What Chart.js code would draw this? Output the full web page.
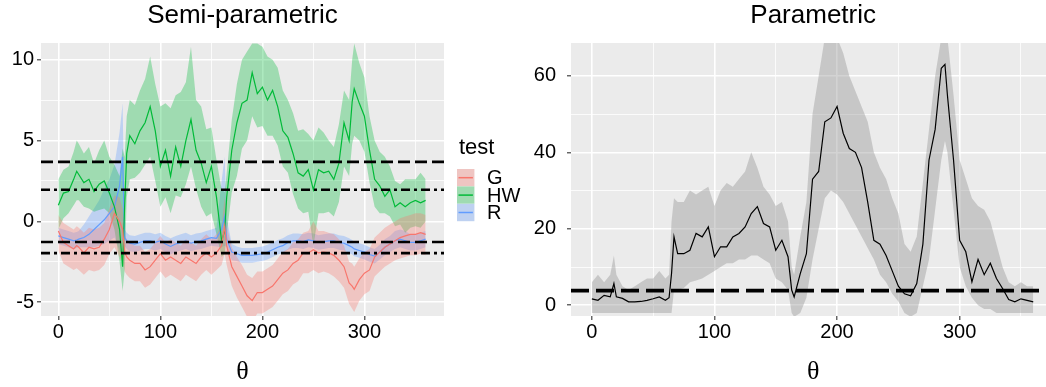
<!DOCTYPE html>
<html>
<head>
<meta charset="utf-8">
<title>Semi-parametric vs Parametric</title>
<script src="https://cdn.jsdelivr.net/npm/chart.js@4.4.1/dist/chart.umd.min.js"></script>
<style>
  html, body { margin: 0; padding: 0; background: #fff; overflow: hidden; }
  body { width: 1046px; height: 387px; position: relative; }
  .panel { position: absolute; top: 0; height: 387px; }
  #semiWrap { left: 0; width: 540px; }
  #paraWrap { left: 530px; width: 530px; }
</style>
</head>
<body>
<div class="panel" id="semiWrap"><canvas id="semi"></canvas></div>
<div class="panel" id="paraWrap"><canvas id="para"></canvas></div>
<script>
/* ---------- data ---------- */

const theta = [0, 5, 10, 15, 18, 20, 25, 30, 35, 40,
    45, 50, 55, 60, 63, 65, 67, 70, 75, 80,
    85, 90, 95, 100, 105, 110, 115, 120, 125, 130,
    135, 140, 145, 150, 155, 160, 163, 165, 170, 175,
    180, 185, 190, 195, 200, 205, 210, 215, 220, 225,
    230, 235, 240, 245, 250, 255, 260, 265, 270, 275,
    280, 285, 288, 290, 295, 300, 305, 310, 315, 320,
    325, 330, 335, 340, 345, 350, 355, 360];

// Semi-parametric: HW
const hwMean = [1.0, 1.75, 1.85, 2.6, 3.1, 2.9, 2.4, 2.6, 1.85, 2.3,
    2.5, 1.75, 0.9, -0.5, -2.8, 1.0, 4.2, 5.3, 4.8, 5.6,
    6.1, 7.1, 5.6, 3.4, 4.4, 2.8, 4.6, 3.4, 5.0, 6.3,
    4.4, 3.6, 2.4, 3.4, 1.5, -1.2, -0.6, 1.5, 4.4, 6.1,
    7.3, 7.5, 9.2, 7.9, 8.3, 7.5, 8.1, 7.1, 5.6, 5.2,
    4.2, 3.0, 2.8, 3.2, 1.95, 3.2, 3.0, 3.1, 2.6, 3.6,
    6.1, 5.0, 7.4, 8.2, 7.3, 6.5, 4.4, 2.6, 2.2, 1.55,
    1.95, 0.9, 1.15, 0.9, 1.15, 1.3, 1.15, 1.3];
const hwLo = [-0.5, 0.2, 0.5, 1.0, 1.3, 1.3, 0.9, 0.8, 0.6, 0.7,
    0.8, 0.5, -0.5, -2.5, -4.3, -3.0, 1.5, 2.6, 2.7, 3.0,
    3.5, 4.0, 2.5, 0.9, 1.5, 0.5, 1.6, 1.5, 2.3, 3.4,
    2.0, 0.9, 0.3, 0.5, -0.8, -2.2, -2.0, -0.8, 1.8, 2.8,
    4.5, 5.0, 6.5, 5.8, 5.9, 5.3, 5.3, 4.7, 3.4, 3.0,
    1.7, 0.8, 0.5, 0.6, -1.5, 0.5, 0.5, 0.6, 0.3, 1.2,
    3.4, 2.8, 4.8, 5.3, 5.0, 4.3, 2.4, 0.9, 0.5, 0.5,
    0.3, -0.3, -0.2, -0.7, -0.4, -0.3, -0.4, 0.0];
const hwHi = [2.6, 3.2, 3.4, 4.3, 5.0, 4.8, 4.2, 4.6, 3.6, 4.4,
    5.0, 4.0, 3.5, 2.8, 4.5, 4.0, 6.5, 7.5, 7.2, 8.1,
    8.8, 10.2, 8.5, 7.1, 7.3, 7.0, 7.8, 8.0, 8.6, 10.8,
    7.5, 7.1, 5.7, 5.8, 3.8, 2.0, 1.8, 3.0, 6.3, 8.5,
    10.0, 10.5, 11.0, 11.0, 10.8, 10.2, 10.0, 9.5, 8.1, 7.5,
    6.7, 5.6, 5.7, 5.4, 5.0, 5.8, 5.5, 5.0, 4.6, 6.0,
    8.1, 7.5, 10.0, 11.0, 9.8, 8.9, 6.5, 5.0, 4.3, 4.0,
    3.4, 2.5, 2.3, 2.6, 2.6, 2.6, 3.0, 2.6];

// Semi-parametric: G
const gMean = [-0.6, -1.3, -1.5, -1.7, -1.5, -1.6, -1.95, -1.6, -1.7, -1.6,
    -1.1, -0.5, 0.5, 0.0, -0.5, -1.9, -2.2, -2.4, -2.6, -2.6,
    -3.0, -2.8, -2.4, -2.0, -2.4, -2.2, -2.4, -2.6, -2.2, -2.4,
    -2.6, -2.2, -1.95, -2.2, -1.95, -1.5, -0.3, -1.5, -2.8, -3.4,
    -4.0, -4.6, -4.9, -4.4, -4.4, -4.2, -4.0, -3.6, -3.2, -3.0,
    -2.6, -2.4, -1.95, -1.95, -1.75, -1.95, -1.9, -1.95, -2.1, -2.4,
    -2.8, -3.8, -4.0, -4.2, -3.6, -3.2, -3.0, -2.2, -1.9, -1.6,
    -1.4, -1.2, -1.0, -0.9, -0.8, -0.8, -0.7, -0.8];
const gLo = [-1.8, -2.6, -2.8, -3.0, -2.9, -3.0, -3.3, -3.0, -3.1, -3.0,
    -2.7, -2.0, -1.6, -2.2, -2.5, -3.1, -3.3, -3.5, -3.7, -3.7,
    -4.1, -3.9, -3.5, -3.1, -3.5, -3.3, -3.5, -3.7, -3.3, -3.5,
    -3.7, -3.3, -3.0, -3.3, -3.0, -2.7, -2.0, -2.7, -4.0, -4.7,
    -5.3, -5.9, -6.2, -5.7, -5.7, -5.5, -5.3, -4.9, -4.5, -4.3,
    -3.9, -3.7, -3.2, -3.2, -3.0, -3.2, -3.1, -3.2, -3.4, -3.7,
    -4.1, -5.1, -5.4, -5.6, -4.9, -4.5, -4.3, -3.4, -3.1, -2.8,
    -2.6, -2.4, -2.3, -2.2, -2.1, -2.1, -2.0, -2.1];
const gHi = [0.4, -0.1, -0.3, -0.5, -0.3, -0.4, -0.7, -0.4, -0.5, -0.4,
    -0.1, 0.8, 1.6, 1.5, 0.8, -0.8, -1.1, -1.3, -1.5, -1.5,
    -1.9, -1.7, -1.3, -0.9, -1.3, -1.1, -1.3, -1.5, -1.1, -1.3,
    -1.5, -1.1, -0.8, -1.1, -0.8, -0.3, 1.5, -0.3, -1.6, -2.2,
    -2.7, -3.3, -3.5, -3.1, -3.1, -2.9, -2.7, -2.3, -1.9, -1.7,
    -1.3, -1.1, -0.7, -0.6, 0.0, -0.6, -0.6, -0.7, -0.8, -1.1,
    -1.5, -2.5, -2.6, -2.8, -2.3, -1.9, -1.7, -1.0, -0.7, -0.4,
    -0.2, 0.0, 0.2, 0.3, 0.4, 0.5, 0.5, 0.4];

// Semi-parametric: R
const rMean = [-0.9, -1.0, -1.1, -1.2, -1.15, -1.1, -1.0, -0.8, -0.5, -0.2,
    0.1, 0.5, 0.9, 2.2, 4.0, -1.0, -1.2, -1.35, -1.4, -1.3,
    -1.2, -1.2, -1.3, -1.2, -1.4, -1.55, -1.4, -1.3, -1.2, -1.35,
    -1.25, -1.2, -1.1, -1.0, -1.05, -0.5, 0.3, -1.1, -1.9, -2.0,
    -2.1, -2.1, -2.1, -2.05, -2.0, -1.9, -1.75, -1.6, -1.5, -1.3,
    -1.2, -1.2, -1.25, -1.15, -1.2, -1.3, -1.25, -1.2, -1.2, -1.3,
    -1.35, -1.5, -1.6, -1.7, -1.8, -1.9, -2.05, -2.15, -1.9, -1.6,
    -1.4, -1.2, -1.1, -1.2, -1.3, -1.3, -1.2, -1.1];
const rLo = [-1.4, -1.5, -1.6, -1.7, -1.65, -1.6, -1.6, -1.6, -1.6, -1.5,
    -1.4, -1.2, -1.0, -1.8, -2.0, -1.5, -1.7, -1.85, -1.9, -1.8,
    -1.7, -1.7, -1.8, -1.7, -1.9, -2.05, -1.9, -1.8, -1.7, -1.85,
    -1.75, -1.7, -1.6, -1.5, -1.55, -1.6, -1.5, -1.6, -2.4, -2.45,
    -2.55, -2.55, -2.55, -2.5, -2.45, -2.35, -2.2, -2.05, -1.95, -1.75,
    -1.65, -1.65, -1.7, -1.6, -1.65, -1.75, -1.7, -1.65, -1.65, -1.75,
    -1.8, -1.95, -2.05, -2.15, -2.25, -2.35, -2.5, -2.6, -2.35, -2.1,
    -1.9, -1.7, -1.6, -1.7, -1.8, -1.8, -1.7, -1.6];
const rHi = [-0.4, -0.5, -0.6, -0.7, -0.65, -0.6, -0.2, 0.3, 0.8, 1.3,
    2.0, 2.6, 3.5, 5.5, 7.3, -0.5, -0.7, -0.85, -0.9, -0.8,
    -0.7, -0.7, -0.8, -0.7, -0.9, -1.05, -0.9, -0.8, -0.7, -0.85,
    -0.75, -0.7, -0.6, -0.5, -0.4, 2.5, 4.0, 0.2, -1.4, -1.55,
    -1.65, -1.65, -1.65, -1.6, -1.55, -1.45, -1.3, -1.15, -1.05, -0.85,
    -0.75, -0.75, -0.8, -0.7, -0.75, -0.85, -0.8, -0.75, -0.75, -0.85,
    -0.9, -1.05, -1.15, -1.25, -1.35, -1.45, -1.6, -1.7, -1.45, -1.1,
    -0.9, -0.6, -0.5, -0.6, -0.8, -0.8, -0.7, -0.6];

// Parametric
const pMean = [1.7, 1.3, 2.6, 2.2, 5.7, 2.2, 1.8, 0.9, 0.9, 1.0,
    1.3, 1.7, 2.2, 1.3, 2.0, 8.3, 17.9, 13.5, 13.5, 14.4,
    18.8, 17.9, 20.5, 12.7, 15.3, 15.3, 17.9, 18.8, 20.5, 24.0,
    25.8, 21.4, 20.5, 14.4, 17.0, 12.7, 4.0, 2.2, 8.3, 13.5,
    33, 35, 48, 49, 52, 45, 41, 40, 36, 27,
    17, 16, 13, 9, 5, 3, 2.5, 5.7, 16, 38,
    46, 62, 63, 55, 38, 17, 14, 6.1, 12, 8,
    11, 7, 4.4, 1.5, 0.9, 1.7, 1.3, 0.9];
const pLo = [-2, -2, -2, -2, -2, -2, -2, -2, -2, -2,
    -2, -2, -2, -2, -2, -2, 4, 4, 4.5, 6,
    6.5, 7, 8, 9, 10, 11, 11, 12, 12, 13,
    13, 12, 11, 7, 6, 4, -2, -3, -2, 2,
    12, 20, 28, 30, 29, 27, 24, 21, 18, 15,
    12, 8, 6, 3, 1, -2, -3, -2, 5, 12,
    25, 38, 43, 40, 25, 10, 5, 2, 0, -1,
    -1, -2, -2, -2, -2, -2, -2, -2];
const pHi = [6, 8, 6, 8, 13, 8, 5, 4, 5, 6,
    7, 7, 9, 7, 8, 22, 28, 27, 27, 30,
    29, 30, 31, 26, 30, 32, 31, 33, 35, 40,
    36, 31, 29, 26, 27, 22, 10, 8, 18, 27,
    50, 60, 70, 70, 70, 66, 60, 56, 52, 48,
    40, 36, 33, 28, 24, 16, 14, 18, 32, 46,
    60, 70, 70, 70, 55, 38, 33, 28, 26, 25,
    22, 16, 10, 6, 5, 6, 5, 5];

// reference lines
const semiDashed = [3.68, -1.27];
const semiDotDash = [1.96, -1.96];
const paraDashed = [3.84];

// axes
const xTicks = [0, 50, 100, 150, 200, 250, 300, 350];
const xMajor = [0, 100, 200, 300];
const semiYTicks = [-5, -2.5, 0, 2.5, 5, 7.5, 10];
const semiYMajor = [-5, 0, 5, 10];
const paraYTicks = [0, 10, 20, 30, 40, 50, 60];
const paraYMajor = [0, 20, 40, 60];

const legendTitle = 'test';
const xTitle = 'θ';

/* ---------- helpers ---------- */

Chart.defaults.font.family = "'Liberation Sans', Arial, sans-serif";
Chart.defaults.color = '#000';
Chart.defaults.animation = false;

const pts = ys => theta.map((t, i) => ({ x: t, y: ys[i] }));

const series = [
    { name: 'G', color: '#F8766D', band: 'rgba(248,118,109,0.32)', mean: gMean, lo: gLo, hi: gHi },
    { name: 'HW', color: '#00BA38', band: 'rgba(0,186,56,0.32)', mean: hwMean, lo: hwLo, hi: hwHi },
    { name: 'R', color: '#619CFF', band: 'rgba(97,156,255,0.32)', mean: rMean, lo: rLo, hi: rHi }
];

// grey panel like ggplot's theme_gray
const panelBg = {
    id: 'panelBg',
    beforeDraw(chart) {
        const { ctx, chartArea: a } = chart;
        ctx.save();
        ctx.fillStyle = '#EBEBEB';
        ctx.fillRect(a.left, a.top, a.right - a.left, a.bottom - a.top);
        ctx.restore();
    }
};

function ggAxis({ position, min, max, ticks, major, fit, padding, title }) {
    const isMajor = c => c.tick && major.includes(c.tick.value);
    return {
        type: 'linear', position, min, max,
        afterBuildTicks: s => { s.ticks = ticks.map(v => ({ value: v })); },
        afterFit: s => { if (position === 'left') s.width = fit; else s.height = fit; },
        border: { display: false },
        grid: {
            color: '#FFFFFF',
            lineWidth: c => isMajor(c) ? 1.6 : 0.8,
            tickLength: 4,
            tickWidth: 1.1,
            tickColor: c => isMajor(c) ? '#333333' : 'rgba(0,0,0,0)'
        },
        ticks: {
            padding, color: '#000', autoSkip: false, maxRotation: 0,
            font: { size: 20 },
            callback: v => major.includes(v) ? String(v) : ''
        },
        title: title ? {
            display: true, text: title, color: '#000',
            font: { family: "'Liberation Serif', 'DejaVu Serif', serif", size: 26, lineHeight: 1 },
            padding: { top: 0, bottom: 2 }
        } : { display: false }
    };
}

function hline(v, xmin, xmax, width, dash) {
    return {
        data: [{ x: xmin, y: v }, { x: xmax, y: v }],
        borderColor: '#000', borderWidth: width, borderDash: dash,
        pointRadius: 0, fill: false
    };
}

function panelTitle(text) {
    return {
        display: true, text, color: '#000', fullSize: false,
        font: { size: 26, weight: 'normal' },
        padding: { top: 0, bottom: 11.8 }
    };
}

/* ---------- Semi-parametric panel ---------- */

const X_MIN = -17, X_MAX = 378;

const semiSets = [];
semiDashed.forEach(v => semiSets.push(hline(v, X_MIN, X_MAX, 2.6, [12, 5])));
semiDotDash.forEach(v => semiSets.push(hline(v, X_MIN, X_MAX, 2.6, [9, 4, 3, 4])));
series.forEach(s => semiSets.push({
    label: s.name, data: pts(s.mean), borderColor: s.color, borderWidth: 1.2,
    pointRadius: 0, fill: false
}));
series.forEach(s => {
    semiSets.push({ data: pts(s.lo), borderWidth: 0, pointRadius: 0, fill: false });
    semiSets.push({ data: pts(s.hi), borderWidth: 0, pointRadius: 0, fill: '-1', backgroundColor: s.band });
});

const keyLegend = {
    id: 'keyLegend',
    afterDraw(chart) {
        const { ctx } = chart;
        const x = 457, y0 = 169, k = 17.4;
        ctx.save();
        ctx.textBaseline = 'middle';
        ctx.textAlign = 'left';
        ctx.fillStyle = '#000';
        ctx.font = "22px 'Liberation Sans', Arial, sans-serif";
        ctx.fillText(legendTitle, x + 2, 148);
        ctx.font = "20px 'Liberation Sans', Arial, sans-serif";
        series.forEach((s, i) => {
            const y = y0 + i * k;
            ctx.fillStyle = '#EBEBEB';
            ctx.fillRect(x, y, k, k);
            ctx.fillStyle = s.band;
            ctx.fillRect(x, y, k, k);
            ctx.strokeStyle = s.color;
            ctx.lineWidth = 1.5;
            ctx.beginPath();
            ctx.moveTo(x + 1.5, y + k / 2);
            ctx.lineTo(x + k - 1.5, y + k / 2);
            ctx.stroke();
            ctx.fillStyle = '#000';
            ctx.fillText(s.name, x + 30, y + k / 2 + 1);
        });
        ctx.restore();
    }
};

new Chart(document.getElementById('semi'), {
    type: 'line',
    data: { datasets: semiSets },
    options: {
        responsive: true, maintainAspectRatio: false, devicePixelRatio: 1,
        layout: { padding: { left: 0, right: 96, top: 0, bottom: 0 } },
        scales: {
            x: ggAxis({ position: 'bottom', min: X_MIN, max: X_MAX, ticks: xTicks, major: xMajor, fit: 71, padding: 0, title: xTitle }),
            y: ggAxis({ position: 'left', min: -5.85, max: 11.03, ticks: semiYTicks, major: semiYMajor, fit: 41, padding: 3 })
        },
        plugins: {
            filler: { drawTime: 'beforeDatasetsDraw' },
            legend: { display: false },
            tooltip: { enabled: false },
            title: panelTitle('Semi-parametric')
        }
    },
    plugins: [panelBg, keyLegend]
});

/* ---------- Parametric panel ---------- */

const paraSets = [];
paraDashed.forEach(v => paraSets.push(hline(v, X_MIN, X_MAX, 3.8, [18, 7])));
paraSets.push({ label: 'Parametric', data: pts(pMean), borderColor: '#000', borderWidth: 1.2, pointRadius: 0, fill: false });
paraSets.push({ data: pts(pLo), borderWidth: 0, pointRadius: 0, fill: false });
paraSets.push({ data: pts(pHi), borderWidth: 0, pointRadius: 0, fill: '-1', backgroundColor: 'rgba(150,150,150,0.42)' });

new Chart(document.getElementById('para'), {
    type: 'line',
    data: { datasets: paraSets },
    options: {
        responsive: true, maintainAspectRatio: false, devicePixelRatio: 1,
        layout: { padding: { left: 0, right: 4.7, top: 0, bottom: 0 } },
        scales: {
            x: ggAxis({ position: 'bottom', min: X_MIN, max: X_MAX, ticks: xTicks, major: xMajor, fit: 71, padding: 0, title: xTitle }),
            y: ggAxis({ position: 'left', min: -2.8, max: 68.6, ticks: paraYTicks, major: paraYMajor, fit: 41, padding: 11 })
        },
        plugins: {
            filler: { drawTime: 'beforeDatasetsDraw' },
            legend: { display: false },
            tooltip: { enabled: false },
            title: panelTitle('Parametric')
        }
    },
    plugins: [panelBg]
});
</script>
</body>
</html>
